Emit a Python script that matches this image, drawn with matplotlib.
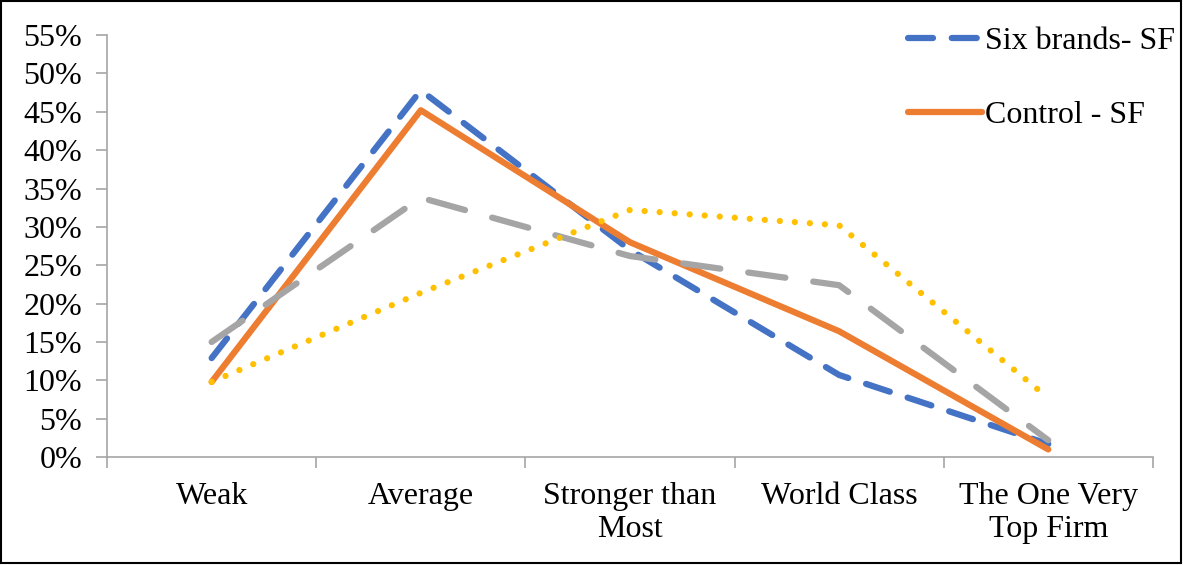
import numpy as np
import matplotlib.pyplot as plt
from matplotlib.lines import Line2D
from matplotlib.patches import Rectangle

categories = ['Weak', 'Average', 'Stronger than\nMost', 'World Class', 'The One Very\nTop Firm']
six_brands_sf = [0.129, 0.478, 0.270, 0.107, 0.017]
control_sf = [0.098, 0.452, 0.280, 0.164, 0.010]
six_brands_other = [0.150, 0.338, 0.262, 0.224, 0.022]
control_other = [0.098, 0.214, 0.322, 0.302, 0.077]

plt.rcParams['font.family'] = ['Liberation Serif', 'DejaVu Serif']

fig = plt.figure(figsize=(11.83, 5.65), dpi=100)
ax = fig.add_axes([0.0905, 0.191, 0.884, 0.747])

x = np.arange(len(categories))
lw = 4.5
blue_dash = (0, (4, 3))
ax.plot(x, six_brands_sf, color='#4472C4', lw=lw, linestyle=blue_dash,
        dash_capstyle='round', solid_capstyle='round', zorder=3)
ax.plot(x, control_sf, color='#ED7D31', lw=lw, solid_capstyle='round', zorder=4)
ax.plot(x, six_brands_other, color='#A5A5A5', lw=lw, linestyle=(0, (6, 4.5)),
        dash_capstyle='round', zorder=5)
ax.plot(x, control_other, color='#FFC000', lw=lw, linestyle=(0, (0.01, 2.4)),
        dash_capstyle='round', zorder=6)

ax.set_xlim(-0.5, len(categories) - 0.5)
ax.set_ylim(0, 0.55)
ax.set_yticks(np.arange(0, 0.551, 0.05))
ax.set_yticklabels([f'{int(round(v * 100))}%' for v in np.arange(0, 0.551, 0.05)])
ax.set_xticks(x)
ax.set_xticklabels(categories)
ax.set_xticks(np.arange(-0.5, len(categories), 1.0), minor=True)

ax.tick_params(axis='x', which='major', length=0, pad=18, labelsize=23)
ax.tick_params(axis='x', which='minor', length=8, width=1.2, color='#A6A6A6')
ax.tick_params(axis='y', length=8, width=1.2, color='#A6A6A6', pad=10, labelsize=23)

for s in ['top', 'right']:
    ax.spines[s].set_visible(False)
for s in ['left', 'bottom']:
    ax.spines[s].set_color('#A6A6A6')
    ax.spines[s].set_linewidth(1.2)

handles = [
    Line2D([], [], color='#4472C4', lw=lw, linestyle=blue_dash, dash_capstyle='round'),
    Line2D([], [], color='#ED7D31', lw=lw, solid_capstyle='round'),
]
fig.legend(handles, ['Six brands- SF', 'Control - SF'], loc='upper left',
           bbox_to_anchor=(0.757, 0.975), frameon=False, fontsize=23,
           handlelength=2.3, handletextpad=0.1, labelspacing=1.4,
           borderaxespad=0)

fig.patches.append(Rectangle((0.001, 0.003), 0.997, 0.995, transform=fig.transFigure,
                             fill=False, edgecolor='black', lw=1.5))

fig.savefig('out.png', dpi=100)
